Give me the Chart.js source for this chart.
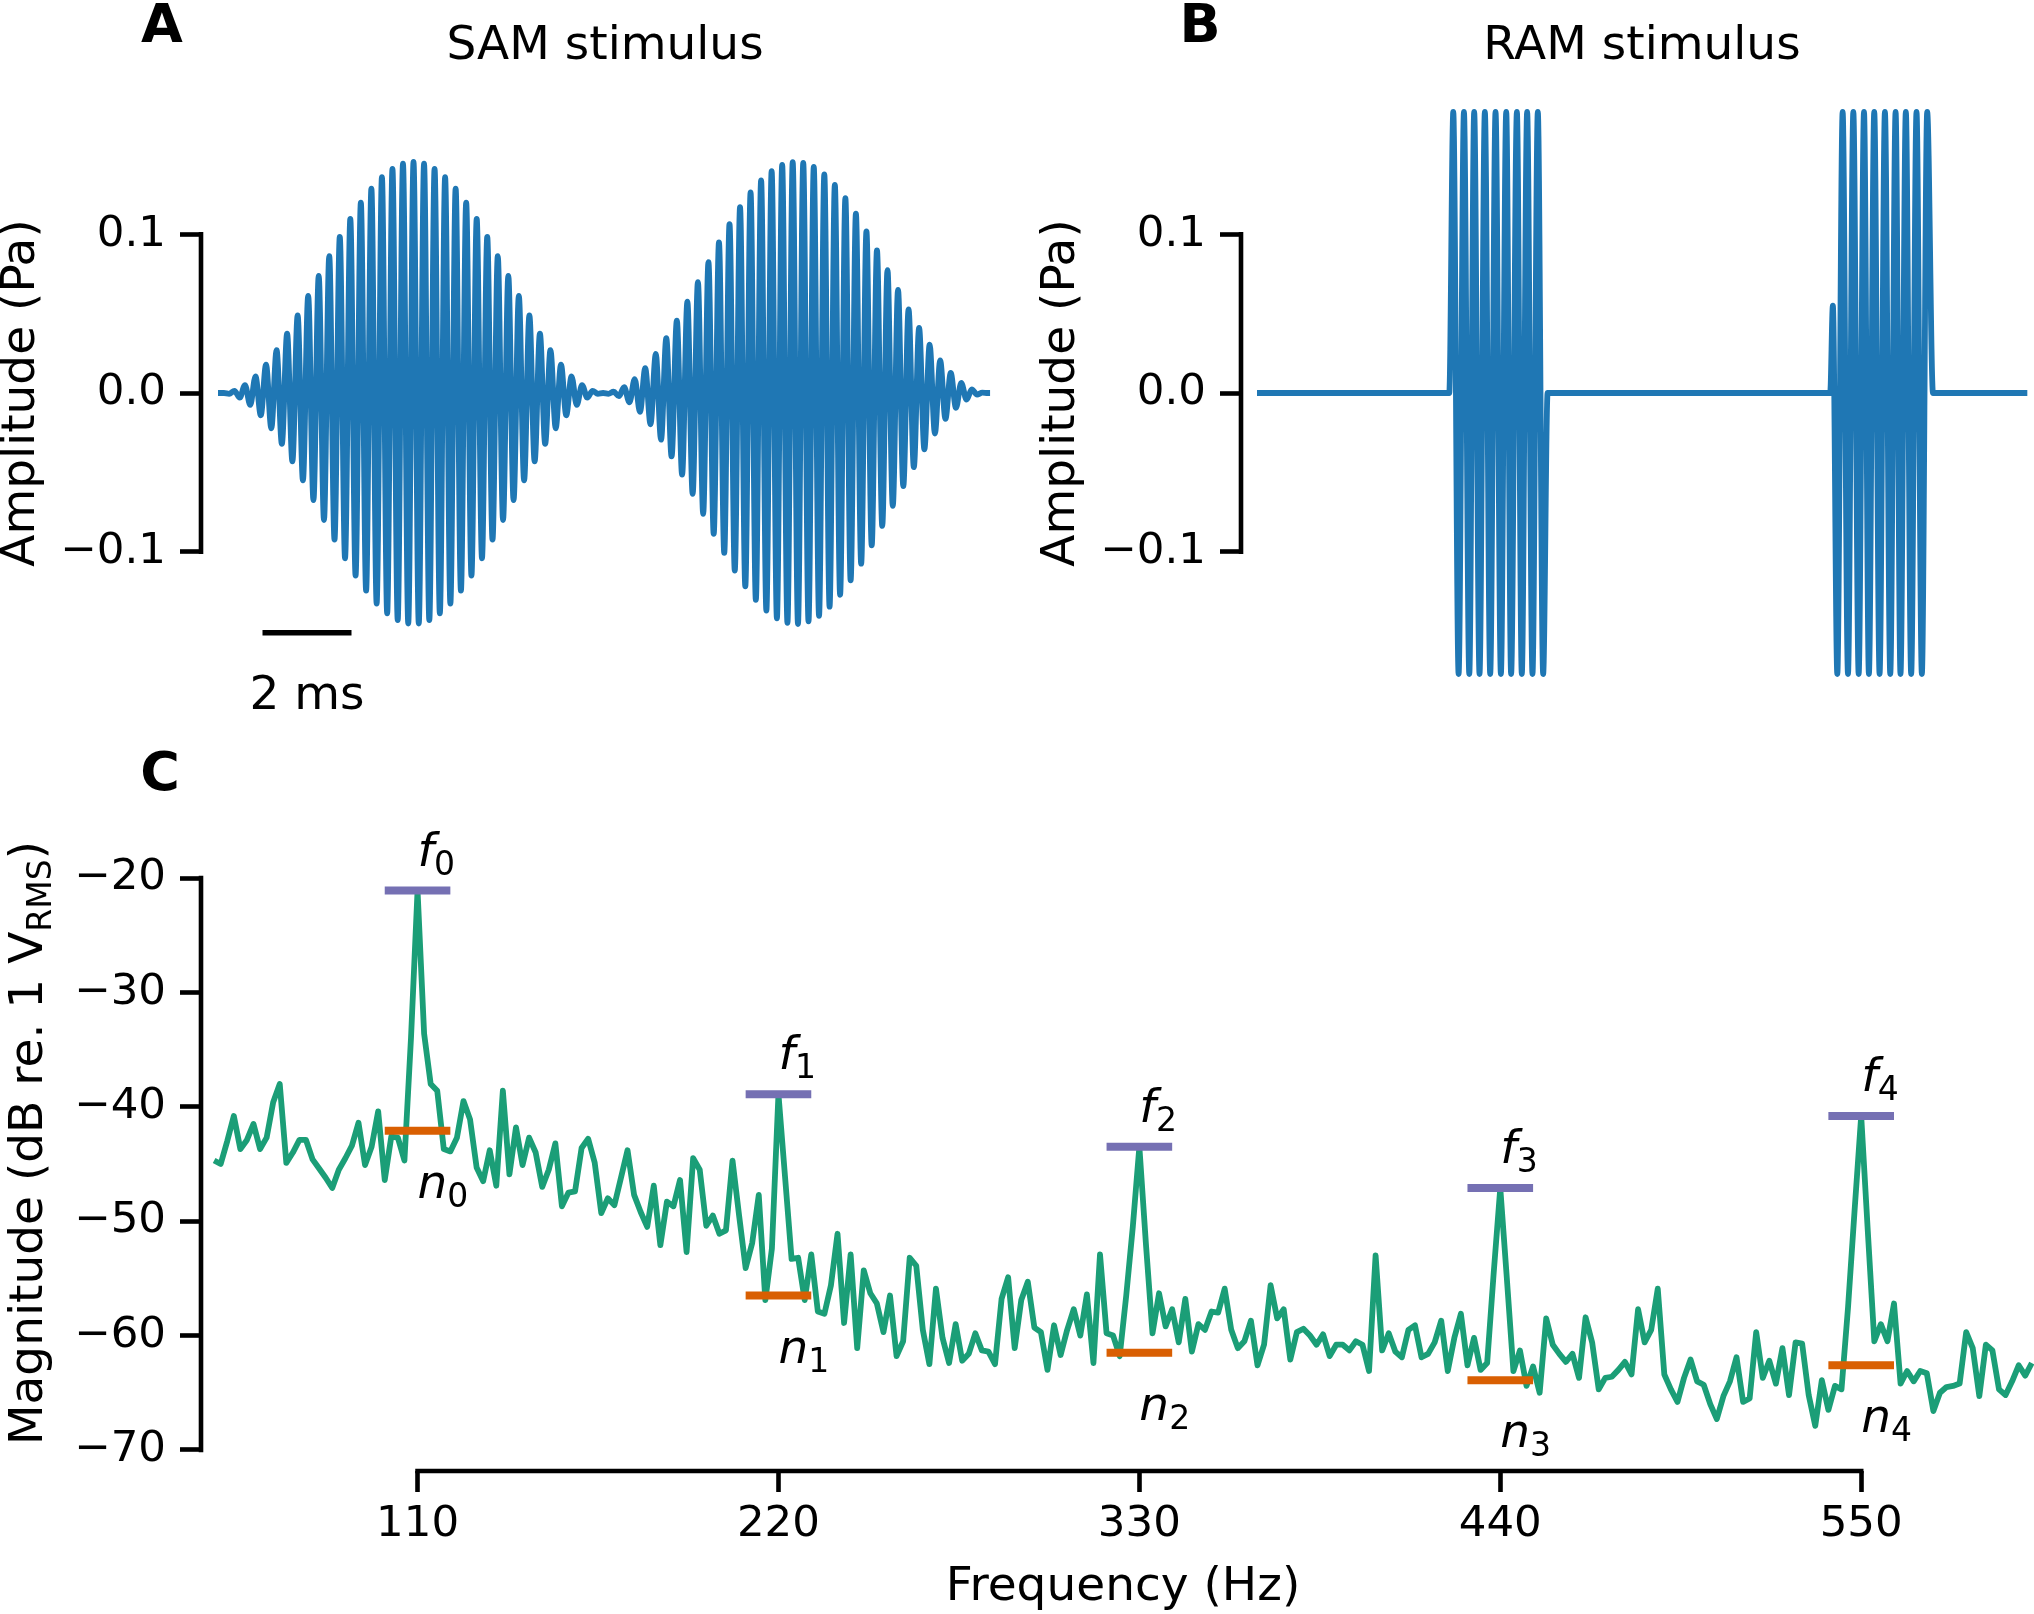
<!DOCTYPE html>
<html lang="en">
<head>
<meta charset="UTF-8">
<title>SAM / RAM stimulus and spectrum</title>
<script src="https://cdn.jsdelivr.net/npm/chart.js"></script>
<style>
    html, body { margin: 0; padding: 0; background: #fff; }
    #figure { position: relative; width: 2034px; height: 1614px; }
    #figure canvas { position: absolute; left: 0; top: 0; }
</style>
</head>
<body>
<div id="figure">
    <canvas id="chart-sam" width="2034" height="1614"></canvas>
    <canvas id="chart-ram" width="2034" height="1614"></canvas>
    <canvas id="chart-spectrum" width="2034" height="1614"></canvas>
</div>

<script>
    // ---------- data ----------

    // panel A, SAM stimulus: one positive and one negative peak per carrier cycle (Pa)
    const carrierPeriodMs = 0.2367;
    const samFirstPeakMs = 0.133;
    const samEndMs = 17.35;
    const samPeaks = [
        0.0000, 0.0014, 0.0050, 0.0105, 0.0179, 0.0270, 0.0374, 0.0489, 0.0612, 0.0737,
        0.0862, 0.0983, 0.1097, 0.1199, 0.1288, 0.1359, 0.1412, 0.1444, 0.1455, 0.1444,
        0.1412, 0.1359, 0.1288, 0.1199, 0.1097, 0.0983, 0.0862, 0.0737, 0.0612, 0.0489,
        0.0374, 0.0270, 0.0179, 0.0105, 0.0050, 0.0014, 0.0000,
        0.0008, 0.0037, 0.0087, 0.0156, 0.0246, 0.0345, 0.0456, 0.0575, 0.0699, 0.0824,
        0.0948, 0.1064, 0.1170, 0.1263, 0.1340, 0.1398, 0.1437, 0.1454, 0.1450, 0.1424,
        0.1377, 0.1311, 0.1227, 0.1129, 0.1018, 0.0899, 0.0774, 0.0649, 0.0526, 0.0410,
        0.0304, 0.0205, 0.0126, 0.0064, 0.0023, 0.0002
    ];
    const samTroughs = [
        -0.0005, -0.0029, -0.0075, -0.0140, -0.0223, -0.0320, -0.0431, -0.0550, -0.0674, -0.0800,
        -0.0923, -0.1041, -0.1150, -0.1245, -0.1326, -0.1388, -0.1431, -0.1452, -0.1452, -0.1431,
        -0.1388, -0.1326, -0.1245, -0.1150, -0.1041, -0.0923, -0.0800, -0.0674, -0.0550, -0.0431,
        -0.0320, -0.0223, -0.0140, -0.0075, -0.0029, -0.0005,
        -0.0005, -0.0020, -0.0059, -0.0119, -0.0197, -0.0294, -0.0399, -0.0514, -0.0636, -0.0762,
        -0.0887, -0.1007, -0.1118, -0.1218, -0.1303, -0.1371, -0.1420, -0.1448, -0.1455, -0.1439,
        -0.1403, -0.1346, -0.1271, -0.1180, -0.1075, -0.0960, -0.0837, -0.0711, -0.0587, -0.0467,
        -0.0355, -0.0255, -0.0163, -0.0093, -0.0041, -0.0010, 0.0000
    ];

    // panel B, RAM stimulus: vertices of the trace (ms, Pa)
    const ramTimesMs = [
        0, 4.32, 4.41, 4.53, 4.65, 4.77, 4.88, 5.00, 5.12, 5.24, 5.36, 5.48, 5.60, 5.71,
        5.84, 5.95, 6.07, 6.19, 6.31, 6.43, 6.53,
        12.88, 12.94, 13.04, 13.16, 13.28, 13.40, 13.52, 13.64, 13.75, 13.87, 13.99, 14.11,
        14.23, 14.35, 14.46, 14.58, 14.70, 14.82, 14.94, 15.06, 15.19, 17.31
    ];
    const ramValues = [
        0, 0, 0.177, -0.177, 0.177, -0.177, 0.177, -0.177, 0.177, -0.177, 0.177, -0.177, 0.177, -0.177,
        0.177, -0.177, 0.177, -0.177, 0.177, -0.177, 0,
        0, 0.055, -0.177, 0.177, -0.177, 0.177, -0.177, 0.177, -0.177, 0.177, -0.177, 0.177,
        -0.177, 0.177, -0.177, 0.177, -0.177, 0.177, -0.177, 0.177, 0, 0
    ];

    const ampTicks = [-0.1, 0, 0.1];
    const scaleBarMs = [1, 3];
    const scaleBarLevel = -0.151;
    const scaleBarLabel = '2 ms';

    // panel C, spectrum: 48 Hz to 602 Hz in 2 Hz steps (dB re. 1 V RMS)
    const specStartHz = 48;
    const specStepHz = 2;
    const specDb = [
        -44.7, -45.0, -43.0, -40.8, -43.7, -42.9, -41.5, -43.7, -42.7, -39.6,
        -38.0, -44.9, -44.0, -42.9, -42.9, -44.6, -45.4, -46.2, -47.1, -45.5,
        -44.5, -43.4, -41.4, -45.1, -43.5, -40.4, -46.4, -42.6, -42.7, -44.7,
        -34.0, -21.1, -33.6, -38.0, -38.6, -43.7, -43.9, -42.7, -39.5, -41.1,
        -45.3, -46.5, -43.8, -46.9, -38.6, -45.9, -41.8, -45.1, -42.7, -44.0,
        -47.0, -45.5, -43.2, -48.7, -47.5, -47.4, -43.6, -42.8, -44.9, -49.3,
        -48.0, -48.6, -46.2, -43.8, -47.7, -49.2, -50.5, -46.9, -52.1, -48.3,
        -48.7, -46.4, -52.7, -44.5, -45.5, -50.4, -49.5, -51.1, -50.8, -44.7,
        -49.5, -54.1, -51.9, -47.7, -56.9, -52.4, -38.9, -46.1, -53.3, -53.2,
        -56.9, -52.9, -57.9, -58.1, -55.6, -51.1, -58.9, -52.9, -61.1, -54.3,
        -56.3, -57.2, -59.7, -56.5, -61.8, -60.5, -53.2, -53.9, -59.5, -62.5,
        -55.9, -60.2, -62.4, -59.0, -62.2, -61.6, -59.8, -61.3, -61.4, -62.5,
        -56.8, -54.9, -61.1, -56.9, -55.3, -59.3, -59.7, -63.0, -59.1, -61.7,
        -59.5, -57.7, -60.0, -56.4, -62.4, -52.9, -59.8, -60.0, -61.8, -56.5,
        -50.5, -43.5, -52.0, -59.8, -56.3, -59.2, -57.7, -60.6, -56.8, -61.4,
        -59.0, -59.5, -57.9, -58.0, -55.9, -59.5, -61.1, -60.5, -58.7, -62.6,
        -60.8, -55.6, -58.5, -57.7, -62.1, -59.7, -59.4, -60.0, -60.8, -59.9,
        -61.8, -60.8, -60.8, -61.3, -60.5, -60.8, -63.1, -53.0, -61.3, -59.8,
        -61.4, -61.9, -59.5, -59.1, -61.9, -61.6, -60.6, -58.7, -63.1, -60.2,
        -58.1, -62.6, -60.2, -63.0, -62.4, -54.5, -47.1, -55.0, -63.1, -61.3,
        -64.4, -62.7, -65.0, -58.5, -60.8, -61.6, -62.3, -61.6, -63.7, -58.4,
        -60.6, -64.7, -63.7, -63.6, -63.0, -62.3, -63.4, -57.7, -60.6, -59.5,
        -55.9, -63.4, -64.7, -65.8, -63.7, -62.1, -64.0, -64.3, -66.0, -67.3,
        -65.3, -64.0, -61.9, -65.8, -65.5, -59.7, -63.7, -62.2, -64.2, -61.1,
        -65.2, -60.6, -60.7, -65.2, -67.9, -63.9, -66.5, -64.4, -64.7, -57.5,
        -49.0, -40.8, -50.8, -60.5, -59.0, -60.5, -57.2, -64.2, -63.1, -64.0,
        -63.1, -63.3, -66.6, -65.0, -64.5, -64.4, -64.2, -59.7, -61.1, -65.3,
        -60.8, -61.3, -64.7, -65.2, -64.0, -62.6, -63.5, -62.4
    ];
    const harmonicsHz = [110, 220, 330, 440, 550];
    const peakDb = [-21.1, -38.9, -43.5, -47.1, -40.8];
    const noiseDb = [-42.1, -56.5, -61.5, -63.9, -62.6];
    const markerHalfWidthHz = 10;
    const freqTicks = [110, 220, 330, 440, 550];
    const dbTicks = [-70, -60, -50, -40, -30, -20];

    // ---------- styles ----------
    const FONT = '"DejaVu Sans", sans-serif';
    const TICK_SIZE = 43.5;
    const LABEL_SIZE = 47;
    const BLUE = '#1f77b4';
    const GREEN = '#1b9e77';
    const PURPLE = '#7570b3';
    const ORANGE = '#d95f02';
    const SPINE_W = 4.6;

    function fmtAmp(v) {
        if (v === 0) return '0.0';
        return (v < 0 ? '\u2212' : '') + Math.abs(v).toFixed(1);
    }

    function yAxis(min, max, ticks, fmt) {
        return {
            min: min,
            max: max,
            afterFit: scale => { scale.width = 201; },
            afterBuildTicks: scale => { scale.ticks = ticks.map(v => ({ value: v })); },
            border: { display: false },
            grid: { drawOnChartArea: false, tickLength: 21, tickWidth: SPINE_W, tickColor: '#000' },
            ticks: { color: '#000', padding: 14, font: { family: FONT, size: TICK_SIZE }, callback: fmt }
        };
    }

    function baseOptions(padding, scales) {
        return {
            responsive: false,
            animation: false,
            events: [],
            layout: { padding: padding },
            plugins: { legend: { display: false }, tooltip: { enabled: false } },
            scales: scales
        };
    }

    // ---------- drawing helpers ----------
    function drawText(ctx, str, x, y, size, style, align, rotate) {
        ctx.save();
        ctx.font = (style || '') + ' ' + size + 'px ' + FONT;
        ctx.fillStyle = '#000';
        ctx.textAlign = align || 'center';
        ctx.textBaseline = 'alphabetic';
        ctx.translate(x, y);
        if (rotate) ctx.rotate(rotate);
        ctx.fillText(str, 0, 0);
        ctx.restore();
    }

    // parts: [text, size, style, drop] drawn one after another, centred (or left aligned) on x
    function drawRich(ctx, parts, x, y, align, rotate) {
        ctx.save();
        ctx.fillStyle = '#000';
        ctx.textBaseline = 'alphabetic';
        ctx.textAlign = 'left';
        ctx.translate(x, y);
        if (rotate) ctx.rotate(rotate);
        let total = 0;
        parts.forEach(p => {
            ctx.font = (p[2] || '') + ' ' + p[1] + 'px ' + FONT;
            p.w = ctx.measureText(p[0]).width;
            total += p.w;
        });
        let cx = align === 'left' ? 0 : -total / 2;
        parts.forEach(p => {
            ctx.font = (p[2] || '') + ' ' + p[1] + 'px ' + FONT;
            ctx.fillText(p[0], cx, p[3] || 0);
            cx += p.w;
        });
        ctx.restore();
    }

    // trimmed spines, from first to last tick like seaborn's despine(trim=True)
    function drawSpines(chart, yTicks, xTicks) {
        const { ctx, chartArea, scales } = chart;
        ctx.save();
        ctx.strokeStyle = '#000';
        ctx.lineWidth = SPINE_W;
        ctx.lineCap = 'square';
        if (yTicks) {
            ctx.beginPath();
            ctx.moveTo(chartArea.left, scales.y.getPixelForValue(yTicks[0]));
            ctx.lineTo(chartArea.left, scales.y.getPixelForValue(yTicks[yTicks.length - 1]));
            ctx.stroke();
        }
        if (xTicks) {
            ctx.beginPath();
            ctx.moveTo(scales.x.getPixelForValue(xTicks[0]), chartArea.bottom);
            ctx.lineTo(scales.x.getPixelForValue(xTicks[xTicks.length - 1]), chartArea.bottom);
            ctx.stroke();
        }
        ctx.restore();
    }

    // ---------- panel A ----------
    const samPoints = [{ x: 0, y: 0 }];
    samPeaks.forEach((p, i) => {
        samPoints.push({ x: samFirstPeakMs + i * carrierPeriodMs, y: p });
        samPoints.push({ x: samFirstPeakMs + (i + 0.5) * carrierPeriodMs, y: samTroughs[i] });
    });
    samPoints.push({ x: samEndMs, y: 0 });

    const samDecor = {
        id: 'samDecor',
        afterDraw(chart) {
            const { ctx, chartArea, scales } = chart;
            drawSpines(chart, ampTicks, null);
            drawText(ctx, 'A', 162, 42, 54, 'bold');
            drawText(ctx, 'SAM stimulus', 605, 59, LABEL_SIZE);
            drawText(ctx, 'Amplitude (Pa)', chartArea.left - 167, scales.y.getPixelForValue(0), LABEL_SIZE, '', 'center', -Math.PI / 2);
            const barX = (scales.x.getPixelForValue(scaleBarMs[0]) + scales.x.getPixelForValue(scaleBarMs[1])) / 2;
            drawText(ctx, scaleBarLabel, barX, scales.y.getPixelForValue(scaleBarLevel) + 76, LABEL_SIZE);
        }
    };

    new Chart(document.getElementById('chart-sam'), {
        type: 'line',
        data: {
            datasets: [{
                data: samPoints,
                borderColor: BLUE,
                borderWidth: 5.8,
                borderJoinStyle: 'round',
                pointRadius: 0,
                cubicInterpolationMode: 'monotone',
                clip: false
            }, {
                data: scaleBarMs.map(t => ({ x: t, y: scaleBarLevel })),
                borderColor: '#000',
                borderWidth: 5.5,
                pointRadius: 0,
                clip: false
            }]
        },
        options: baseOptions({ left: 0, top: 139, right: 1034, bottom: 967 }, {
            x: { type: 'linear', display: false, min: -0.382, max: 17.573 },
            y: yAxis(-0.16, 0.16, ampTicks, fmtAmp)
        }),
        plugins: [samDecor]
    });

    // ---------- panel B ----------
    const ramDecor = {
        id: 'ramDecor',
        afterDraw(chart) {
            const { ctx, chartArea, scales } = chart;
            drawSpines(chart, ampTicks, null);
            drawText(ctx, 'B', 1200, 42, 54, 'bold');
            drawText(ctx, 'RAM stimulus', 1642, 59, LABEL_SIZE);
            drawText(ctx, 'Amplitude (Pa)', chartArea.left - 167, scales.y.getPixelForValue(0), LABEL_SIZE, '', 'center', -Math.PI / 2);
        }
    };

    new Chart(document.getElementById('chart-ram'), {
        type: 'line',
        data: {
            datasets: [{
                data: ramTimesMs.map((t, i) => ({ x: t, y: ramValues[i] })),
                borderColor: BLUE,
                borderWidth: 5.8,
                borderJoinStyle: 'round',
                pointRadius: 0,
                cubicInterpolationMode: 'monotone',
                clip: false
            }]
        },
        options: baseOptions({ left: 1040, top: 139, right: 0, bottom: 967 }, {
            x: { type: 'linear', display: false, min: -0.36, max: 17.46 },
            y: yAxis(-0.16, 0.16, ampTicks, fmtAmp)
        }),
        plugins: [ramDecor]
    });

    // ---------- panel C ----------
    function markerPoints(levels) {
        const pts = [];
        harmonicsHz.forEach((f, i) => {
            pts.push({ x: f - markerHalfWidthHz, y: levels[i] });
            pts.push({ x: f + markerHalfWidthHz, y: levels[i] });
            pts.push({ x: f + markerHalfWidthHz + 1, y: null });
        });
        return pts;
    }

    const specDecor = {
        id: 'specDecor',
        afterDraw(chart) {
            const { ctx, chartArea, scales } = chart;
            drawSpines(chart, dbTicks, freqTicks);
            drawText(ctx, 'C', 160, 790, 54, 'bold');
            drawText(ctx, 'Frequency (Hz)', 1123, 1600, LABEL_SIZE);
            drawRich(ctx, [['Magnitude (dB re. 1 V', LABEL_SIZE], ['RMS', 33, '', 9], [')', LABEL_SIZE]],
                chartArea.left - 159, 1143, 'center', -Math.PI / 2);
            harmonicsHz.forEach((f, i) => {
                const x = scales.x.getPixelForValue(f);
                drawRich(ctx, [['f', 47, 'italic'], [String(i), 33, '', 9]], x, scales.y.getPixelForValue(peakDb[i]) - 25, 'left');
                drawRich(ctx, [['n', 47, 'italic'], [String(i), 33, '', 9]], x, scales.y.getPixelForValue(noiseDb[i]) + 67, 'left');
            });
        }
    };

    new Chart(document.getElementById('chart-spectrum'), {
        type: 'line',
        data: {
            datasets: [{
                data: markerPoints(peakDb),
                borderColor: PURPLE,
                borderWidth: 8,
                pointRadius: 0,
                spanGaps: false,
                order: 1,
                clip: false
            }, {
                data: markerPoints(noiseDb),
                borderColor: ORANGE,
                borderWidth: 8,
                pointRadius: 0,
                spanGaps: false,
                order: 1,
                clip: false
            }, {
                data: specDb.map((v, i) => ({ x: specStartHz + i * specStepHz, y: v })),
                borderColor: GREEN,
                borderWidth: 5.8,
                borderJoinStyle: 'round',
                pointRadius: 0,
                order: 2,
                clip: false
            }]
        },
        options: baseOptions({ left: 0, top: 878, right: 0, bottom: 0 }, {
            x: {
                type: 'linear',
                min: 44,
                max: 602.67,
                afterFit: scale => { scale.height = 143; },
                afterBuildTicks: scale => { scale.ticks = freqTicks.map(v => ({ value: v })); },
                border: { display: false },
                grid: { drawOnChartArea: false, tickLength: 21, tickWidth: SPINE_W, tickColor: '#000' },
                ticks: { color: '#000', padding: 7, autoSkip: false, maxRotation: 0, font: { family: FONT, size: TICK_SIZE } }
            },
            y: yAxis(-71.84, -20, dbTicks, v => '\u2212' + Math.abs(v))
        }),
        plugins: [specDecor]
    });
</script>
</body>
</html>
